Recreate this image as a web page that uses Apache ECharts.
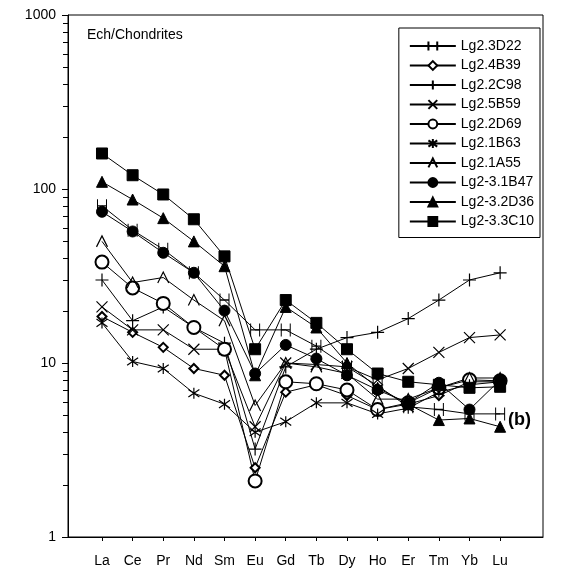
<!DOCTYPE html>
<html>
<head>
<meta charset="utf-8">
<script src="https://cdn.jsdelivr.net/npm/echarts@6/dist/echarts.min.js"></script>
<style>
  html, body { margin: 0; padding: 0; background: #fff; }
  #chart { width: 581px; height: 574px; }
</style>
</head>
<body>
<div id="chart"></div>
<script>
const FONT = "Liberation Sans, Arial, sans-serif";
const INK = "#000";

// REE elements on the x axis
const categories = ["La", "Ce", "Pr", "Nd", "Sm", "Eu", "Gd", "Tb", "Dy", "Ho", "Er", "Tm", "Yb", "Lu"];
const yLabels = [1, 10, 100, 1000];

// chondrite-normalised values, one array per sample
const lg23D22 = [80, 58, 45, 33, 23, 15.5, 15.5, 12.5, 9.5, 7.4, 5.6, 5.4, 5.1, 5.1];
const lg24B39 = [18.5, 15, 12.3, 9.3, 8.5, 2.5, 6.8, 7.5, 6.5, 5.4, 5.8, 6.5, 7.8, 7.8];
const lg22C98 = [30, 17.5, 21, 16, 13, 3.2, 9.5, 12, 14, 15, 18, 23, 30, 33];
const lg25B59 = [21, 15.5, 15.5, 12, 12, 4.3, 10, 9.8, 9.5, 8, 9.3, 11.5, 14, 14.5];
const lg22D69 = [38, 27, 22, 16, 12, 2.1, 7.8, 7.6, 7.0, 5.4, 5.9, 7.2, 8.0, 7.9];
const lg21B63 = [17, 10.2, 9.3, 6.7, 5.8, 4.0, 4.6, 5.9, 5.9, 5.1, 5.5, 6.8, 7.5, 7.8];
const lg21A55 = [50, 29, 31, 23, 17.5, 5.7, 10, 9.5, 8.7, 6.2, 6.2, 7.2, 8.2, 8.2];
const lg231B47 = [74, 57, 43, 33, 20, 8.7, 12.7, 10.6, 8.5, 7.0, 5.9, 7.7, 5.4, 8.0];
const lg232D36 = [110, 87, 68, 50, 36, 8.5, 21, 16, 10, 7.2, 5.8, 4.7, 4.8, 4.3];
const lg233C10 = [160, 120, 93, 67, 41, 12, 23, 17, 12, 8.7, 7.8, 7.5, 7.2, 7.3];

// marker shapes
const H_BARS = "path://M0,0L0,10M7,0L7,10M0,5L7,5";
const PLUS = "path://M5,0L5,10M0,5L10,5";
const CROSS = "path://M0,0L10,10M0,10L10,0";
const STAR = "path://M5,0L5,10M0,1.5L10,8.5M0,8.5L10,1.5";
const CARET = "path://M0,10L5,0L10,10";

const samples = [
  { name: "Lg2.3D22", data: lg23D22, symbol: H_BARS, size: [9, 13], open: true },
  { name: "Lg2.4B39", data: lg24B39, symbol: "emptyDiamond", size: 9 },
  { name: "Lg2.2C98", data: lg22C98, symbol: PLUS, size: 13, open: true },
  { name: "Lg2.5B59", data: lg25B59, symbol: CROSS, size: 11, open: true },
  { name: "Lg2.2D69", data: lg22D69, symbol: "emptyCircle", size: 13 },
  { name: "Lg2.1B63", data: lg21B63, symbol: STAR, size: 11, open: true },
  { name: "Lg2.1A55", data: lg21A55, symbol: CARET, size: 11, open: true },
  { name: "Lg2-3.1B47", data: lg231B47, symbol: "circle", size: 11 },
  { name: "Lg2-3.2D36", data: lg232D36, symbol: "triangle", size: 11 },
  { name: "Lg2-3.3C10", data: lg233C10, symbol: "rect", size: 11 },
];

const X_MIN = -1.11;
const X_MAX = 14.4;

// minor ticks at 2..9 of every decade (the log axis minorTick would space them evenly)
const minorTicks = [];
for (let d = 1; d < 1000; d *= 10) {
  for (let k = 2; k <= 9; k++) minorTicks.push(d * k);
}

const chart = echarts.init(document.getElementById("chart"), null, { renderer: "canvas" });

const lineSeries = samples.map((s) => ({
  name: s.name,
  type: "line",
  data: s.data.map((v, i) => [i, v]),
  symbol: s.symbol,
  symbolSize: s.size,
  showAllSymbol: true,
  lineStyle: { color: INK, width: 1 },
  itemStyle: s.open
    ? { color: "rgba(0,0,0,0)", borderColor: INK, borderWidth: 1.2 }
    : { color: INK, borderColor: INK, borderWidth: 1 },
  emphasis: { disabled: true },
}));

const tickSeries = {
  name: "minor ticks",
  type: "custom",
  clip: false,
  silent: true,
  z: 5,
  data: minorTicks.map((v) => [X_MIN, v]),
  renderItem: (params, api) => {
    const p = api.coord([api.value(0), api.value(1)]);
    const y = Math.round(p[1]) + 0.5;
    return {
      type: "line",
      shape: { x1: p[0] - 5, y1: y, x2: p[0], y2: y },
      style: { stroke: INK, lineWidth: 1 },
    };
  },
};

chart.setOption({
  animation: false,
  backgroundColor: "#fff",
  textStyle: { fontFamily: FONT, color: INK },
  grid: {
    left: 68, right: 38, top: 15, bottom: 37,
    show: true, borderColor: INK, borderWidth: 1,
  },
  title: {
    text: "Ech/Chondrites",
    left: 82, top: 23,
    textStyle: { fontFamily: FONT, fontSize: 14, fontWeight: "normal", color: INK },
  },
  graphic: [{
    type: "text",
    left: 508, top: 411,
    style: { text: "(b)", font: "bold 18px " + FONT, fill: INK },
  }],
  legend: {
    orient: "vertical",
    right: 41, top: 28,
    padding: [11, 6, 9, 10],
    itemWidth: 46, itemHeight: 11, itemGap: 5.5,
    borderColor: INK, borderWidth: 1,
    textStyle: { fontFamily: FONT, fontSize: 14, color: INK },
    data: samples.map((s) => s.name),
  },
  xAxis: {
    type: "value",
    min: X_MIN, max: X_MAX,
    axisLine: { onZero: false, lineStyle: { color: INK, width: 1 } },
    axisTick: { customValues: categories.map((_, i) => i), length: 4, inside: false, lineStyle: { color: INK } },
    axisLabel: {
      customValues: categories.map((_, i) => i),
      formatter: (v) => categories[v] || "",
      color: INK, fontFamily: FONT, fontSize: 14, margin: 17,
    },
    splitLine: { show: false },
  },
  yAxis: {
    type: "log", logBase: 10, min: 1, max: 1000,
    axisLine: { onZero: false, lineStyle: { color: INK, width: 1 } },
    axisTick: { length: 6, lineStyle: { color: INK } },
    axisLabel: {
      formatter: (v) => String(v),
      color: INK, fontFamily: FONT, fontSize: 14, margin: 12,
    },
    splitLine: { show: false },
  },
  series: lineSeries.concat([tickSeries]),
});
</script>
</body>
</html>
